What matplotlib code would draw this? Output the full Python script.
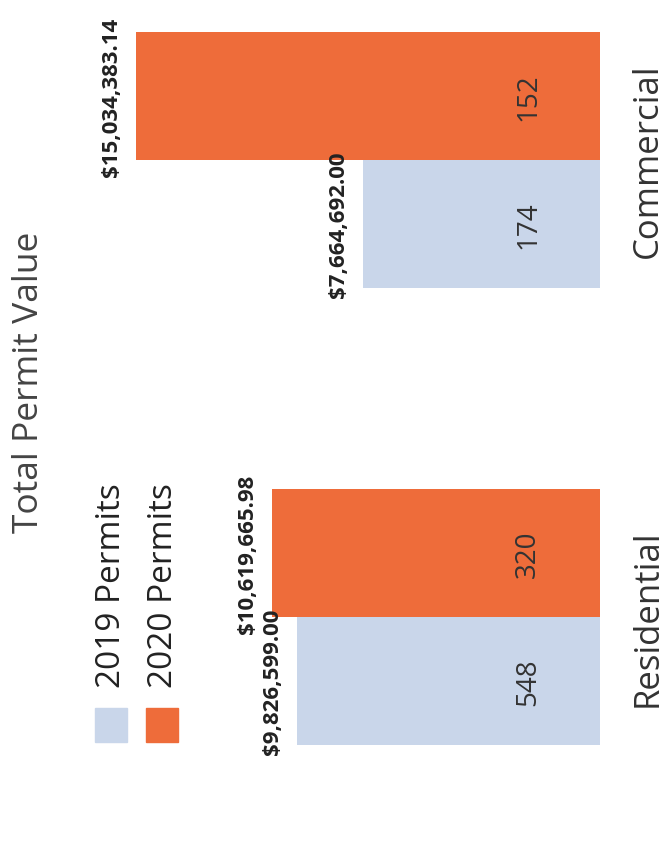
import matplotlib
matplotlib.use("Agg")
import matplotlib.pyplot as plt
from matplotlib.patches import Rectangle

# data
categories = ["Residential", "Commercial"]
years = ["2019 Permits", "2020 Permits"]
value_2019 = [9826599.00, 7664692.00]
value_2020 = [10619665.98, 15034383.14]
count_2019 = [548, 174]
count_2020 = [320, 152]

colors = ["#C9D6EA", "#EE6C3A"]
W, H = 668, 862

plt.rcParams['font.family'] = ['Open Sans', 'DejaVu Sans']

fig = plt.figure(figsize=(W / 100, H / 100), dpi=100)
ax = fig.add_axes([120 / W, 0, 480 / W, 1])

ypos = list(range(len(categories)))
bh = 0.28
b19 = ax.barh([y - bh / 2 for y in ypos], value_2019, height=bh, color=colors[0])
b20 = ax.barh([y + bh / 2 for y in ypos], value_2020, height=bh, color=colors[1])

ax.set_xlim(15.55e6, 0)
ax.set_ylim(-0.534, 1.352)

# labels on bars
for bars, vals, counts in [(b19, value_2019, count_2019), (b20, value_2020, count_2020)]:
    for rect, v, c in zip(bars, vals, counts):
        yc = rect.get_y() + rect.get_height() / 2
        ax.annotate(f"${v:,.2f}", xy=(v, yc), xytext=(-14, 0), textcoords="offset pixels",
                    rotation=90, ha="right", va="center", fontsize=16,
                    fontweight="bold", color="#222222")
        ax.annotate(str(c), xy=(0, yc), xytext=(-58, 0), textcoords="offset pixels",
                    rotation=90, ha="right", va="center", fontsize=20, color="#333333")

# category labels on the right
ax.yaxis.tick_right()
ax.set_yticks(ypos)
ax.set_yticklabels(categories, rotation=90, va="center", fontsize=25, color="#333333")
ax.tick_params(axis="y", length=0, pad=22)
ax.set_xticks([])
for s in ax.spines.values():
    s.set_visible(False)

# title
fig.text(29 / W, 1 - 382 / H, "Total Permit Value", rotation=90, ha="center", va="center",
         fontsize=25.5, color="#444444")

# legend
for i, (lab, col) in enumerate(zip(years, colors)):
    xc = 111 + i * 51
    fig.patches.append(Rectangle(((xc - 16) / W, 1 - 743 / H), 32 / W, 34 / H,
                                 transform=fig.transFigure, color=col))
    fig.text((xc + 1) / W, 1 - 688 / H, lab, rotation=90, ha="center", va="bottom",
             fontsize=24, color="#222222")

fig.savefig("out.png", dpi=100)
